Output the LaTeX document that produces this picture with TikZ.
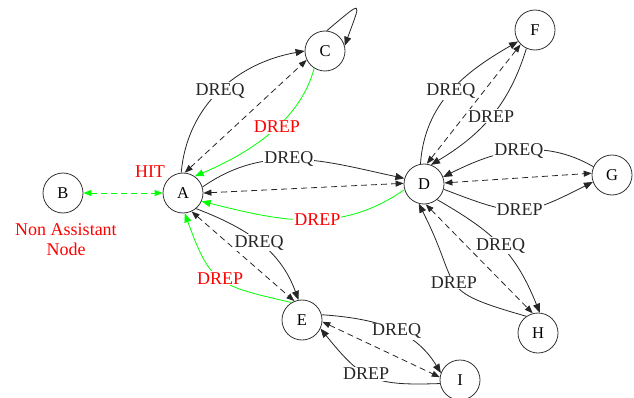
\documentclass[tikz,border=0pt]{standalone}
\usepackage{fontspec}
\setmainfont{Liberation Serif}
\usetikzlibrary{arrows.meta}

\begin{document}
\begin{tikzpicture}[x=1pt,y=1pt,
  state/.style={circle,draw=black!80,line width=0.8pt,minimum size=40pt,inner sep=0pt,font=\fontsize{16.5}{18}\selectfont},
  msg/.style={draw=black!85,line width=0.8pt,-{Triangle[length=9pt,width=7pt]}},
  rep/.style={draw=green,line width=0.8pt,-{Triangle[length=9pt,width=7pt,fill=green]}},
  link/.style={draw=black!85,line width=0.8pt,dash pattern=on 6pt off 4pt,{Triangle[length=8pt,width=6pt]}-{Triangle[length=8pt,width=6pt]}},
  glink/.style={link,draw=green},
  lbl/.style={fill=white,inner sep=1pt,text=black!85,font=\fontsize{18}{20}\selectfont},
  redlbl/.style={lbl,text=red}]
\useasboundingbox (0,0) rectangle (634,397);

\node[state] (A) at (183,204) {A};
\node[state] (B) at (63,204) {B};
\node[state] (C) at (325,346) {C};
\node[state] (D) at (424,213) {D};
\node[state] (E) at (302,77) {E};
\node[state] (F) at (535,367) {F};
\node[state] (G) at (612,222) {G};
\node[state] (H) at (538,64) {H};
\node[state] (I) at (460,17) {I};

\node[text=red,font=\fontsize{18}{20}\selectfont] (hit) at (150,225) {HIT};
\node[text=red,align=center,font=\fontsize{18}{20}\selectfont] (nan) at (66,157) {Non Assistant\\Node};

% dashed links
\draw[glink] (B.0) -- (A.180);
\draw[link] (A.85) -- (C.206);
\draw[link] (A.0) -- (D.178);
\draw[link] (A.295) -- (E.112);
\draw[link] (D.82) -- (F.225);
\draw[link] (D.3) -- (G.175);
\draw[link] (D.275) -- (H.105);
\draw[link] (E.355) -- (I.172);

\draw[msg] (C.85) to[out=40,in=70,looseness=5.3] (C.15);
\draw[msg] (A.95) to[out=85,in=190] node[lbl]{DREQ} (C.180);
\draw[rep] (C.238) to[out=255,in=23,out looseness=0.7,in looseness=1.23] node[redlbl]{DREP} (A.55);
\draw[msg] (A.17) to[out=35,in=168] node[lbl,pos=0.45]{DREQ} (D.164);
\draw[rep] (D.196) to[out=215,in=346] node[redlbl,pos=0.45]{DREP} (A.336);
\draw[msg] (A.310) to[out=339,in=110] node[lbl]{DREQ} (E.100);
\draw[rep] (E.121) to[out=167,in=290,looseness=1.4] node[redlbl]{DREP} (A.275);

\draw[msg] (D.100) to[out=86,in=210] node[lbl]{DREQ} (F.214);
\draw[msg] (F.245) to[out=253,in=31] node[lbl]{DREP} (D.70);
\draw[msg] (G.156) to[out=150,in=27] node[lbl]{DREQ} (D.20);
\draw[msg] (D.345) to[out=339,in=207,looseness=1.35] node[lbl]{DREP} (G.200);
\draw[msg] (D.310) to[out=330,in=112,looseness=1.1] node[lbl]{DREQ} (H.85);
\draw[msg] (H.125) to[out=164,in=297,looseness=1.6] node[lbl]{DREP} (D.255);

\draw[msg] (E.15) to[out=356,in=121] node[lbl,pos=0.55]{DREQ} (I.160);
\draw[msg] (I.190) to[out=182,in=309,looseness=1.3] node[lbl,pos=0.55]{DREP} (E.335);
\end{tikzpicture}
\end{document}
